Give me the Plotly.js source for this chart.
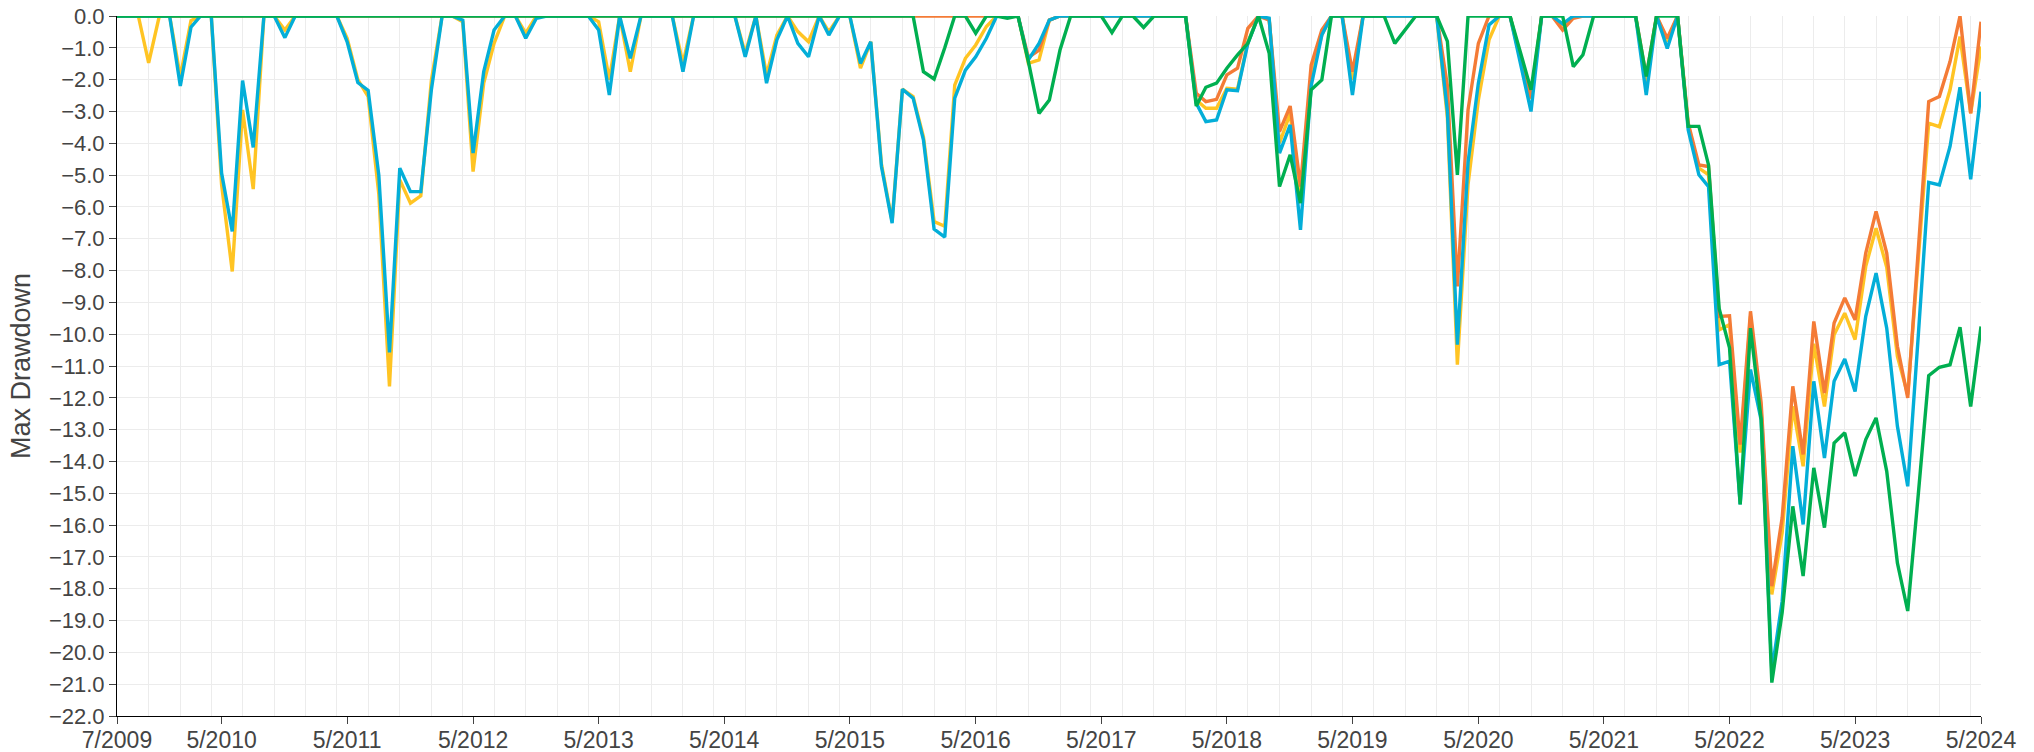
<!DOCTYPE html>
<html>
<head>
<meta charset="utf-8">
<script src="https://cdn.plot.ly/plotly-3.0.1.min.js"></script>
<style>
  html, body { margin: 0; padding: 0; background: #fff; }
  #chart { width: 2034px; height: 752px; }
</style>
</head>
<body>
<div id="chart"></div>
<script>
// Monthly series, 7/2009 .. 5/2024 (179 months)
const startYear = 2009, startMonth = 7, monthCount = 179;

const yellowSeries = [
  /*2009*/ 0, 0, 0, -1.47, 0, 0,
  /*2010*/ -1.9, -0.15, 0, 0, -5.3, -8.03, -2.95, -5.44, 0, 0, -0.44, 0,
  /*2011*/ 0, 0, 0, 0, -0.7, -2.0, -2.53, -5.6, -11.64, -5.15, -5.88, -5.65,
  /*2012*/ -2.0, 0, 0, -0.18, -4.89, -2.11, -0.86, 0, 0, -0.54, 0, 0,
  /*2013*/ 0, 0, 0, 0, -0.18, -2.0, 0, -1.75, 0, 0, 0, 0,
  /*2014*/ -1.49, 0, 0, 0, 0, 0, -1.17, 0, -1.85, -0.6, 0, -0.49,
  /*2015*/ -0.81, 0, -0.49, 0, 0, -1.64, -0.81, -4.65, -6.45, -2.3, -2.53, -3.8,
  /*2016*/ -6.46, -6.61, -2.17, -1.33, -0.91, -0.33, 0, 0, 0, -1.49, -1.38, -0.13,
  /*2017*/ 0, 0, 0, 0, 0, 0, 0, 0, 0, 0, 0, 0,
  /*2018*/ 0, -2.64, -2.9, -2.9, -2.27, -2.3, -0.81, 0, -0.1, -4.0, -3.06, -5.78,
  /*2019*/ -1.9, -0.6, 0, 0, -2.0, 0, 0, 0, 0, 0, 0, 0,
  /*2020*/ 0, -3.2, -10.96, -5.3, -2.64, -0.75, 0, 0, -1.4, -2.6, 0, 0,
  /*2021*/ -0.3, 0, 0, 0, 0, 0, 0, 0, -2.1, 0, -0.8, 0,
  /*2022*/ -3.45, -4.78, -4.99, -9.86, -9.7, -13.72, -9.44, -12.42, -18.18, -16.24, -12.27, -14.15,
  /*2023*/ -10.3, -12.27, -10.02, -9.34, -10.17, -7.87, -6.67, -7.9, -10.7, -11.9, -7.6, -3.37,
  /*2024*/ -3.48, -2.32, -0.65, -3.06, -0.96
];

const orangeSeries = [
  /*2009*/ 0, 0, 0, 0, 0, 0,
  /*2010*/ 0, 0, 0, 0, 0, 0, 0, 0, 0, 0, 0, 0,
  /*2011*/ 0, 0, 0, 0, 0, 0, 0, 0, 0, 0, 0, 0,
  /*2012*/ 0, 0, 0, 0, 0, 0, 0, 0, 0, 0, 0, 0,
  /*2013*/ 0, 0, 0, 0, 0, 0, 0, 0, 0, 0, 0, 0,
  /*2014*/ 0, 0, 0, 0, 0, 0, 0, 0, 0, 0, 0, 0,
  /*2015*/ 0, 0, 0, 0, 0, 0, 0, 0, 0, 0, 0, 0,
  /*2016*/ 0, 0, 0, 0, 0, 0, 0, 0, 0, -1.3, -1.07, -0.13,
  /*2017*/ 0, 0, 0, 0, 0, 0, 0, 0, 0, 0, 0, 0,
  /*2018*/ 0, -2.43, -2.69, -2.62, -1.85, -1.64, -0.39, 0, -0.13, -3.63, -2.83, -5.36,
  /*2019*/ -1.54, -0.44, 0, 0, -1.75, 0, 0, 0, 0, 0, 0, 0,
  /*2020*/ 0, -2.2, -8.5, -2.95, -0.86, 0, 0, 0, -1.3, -2.58, 0, 0,
  /*2021*/ -0.44, -0.07, 0, 0, 0, 0, 0, 0, -1.9, 0, -0.7, 0,
  /*2022*/ -3.37, -4.68, -4.73, -9.44, -9.42, -13.47, -9.28, -12.16, -17.92, -15.77, -11.64, -13.78,
  /*2023*/ -9.6, -11.85, -9.65, -8.86, -9.55, -7.45, -6.14, -7.45, -10.38, -12.0, -7.3, -2.69,
  /*2024*/ -2.53, -1.43, 0, -3.06, -0.18
];

const blueSeries = [
  /*2009*/ 0, 0, 0, 0, 0, 0,
  /*2010*/ -2.2, -0.35, 0, 0, -4.94, -6.77, -2.03, -4.13, 0, 0, -0.68, 0,
  /*2011*/ 0, 0, 0, 0, -0.81, -2.09, -2.34, -5.0, -10.57, -4.78, -5.52, -5.52,
  /*2012*/ -2.3, 0, 0, -0.13, -4.31, -1.75, -0.44, 0, 0, -0.7, -0.07, 0,
  /*2013*/ 0, 0, 0, 0, -0.44, -2.48, 0, -1.33, 0, 0, 0, 0,
  /*2014*/ -1.75, 0, 0, 0, 0, 0, -1.28, 0, -2.11, -0.75, 0, -0.86,
  /*2015*/ -1.28, 0, -0.6, 0, 0, -1.49, -0.81, -4.73, -6.51, -2.3, -2.58, -3.89,
  /*2016*/ -6.7, -6.95, -2.58, -1.7, -1.28, -0.7, 0, 0, 0, -1.38, -0.86, -0.13,
  /*2017*/ 0, 0, 0, 0, 0, 0, 0, 0, 0, 0, 0, 0,
  /*2018*/ 0, -2.74, -3.32, -3.27, -2.32, -2.35, -0.86, 0, -0.07, -4.31, -3.42, -6.72,
  /*2019*/ -2.2, -0.6, 0, 0, -2.48, 0, 0, 0, 0, 0, 0, 0,
  /*2020*/ 0, -3.0, -10.33, -4.6, -2.11, -0.28, 0, 0, -1.49, -3.0, 0, 0,
  /*2021*/ -0.25, 0, 0, 0, 0, 0, 0, 0, -2.48, 0, -1.02, 0,
  /*2022*/ -3.58, -4.99, -5.36, -10.96, -10.85, -15.35, -11.11, -12.7, -20.6, -18.39, -13.52, -15.98,
  /*2023*/ -11.48, -13.89, -11.48, -10.78, -11.8, -9.44, -8.08, -9.81, -12.89, -14.78, -10.0, -5.23,
  /*2024*/ -5.31, -4.1, -2.24, -5.13, -2.38
];

const greenSeries = [
  /*2009*/ 0, 0, 0, 0, 0, 0,
  /*2010*/ 0, 0, 0, 0, 0, 0, 0, 0, 0, 0, 0, 0,
  /*2011*/ 0, 0, 0, 0, 0, 0, 0, 0, 0, 0, 0, 0,
  /*2012*/ 0, 0, 0, 0, 0, 0, 0, 0, 0, 0, 0, 0,
  /*2013*/ 0, 0, 0, 0, 0, 0, 0, 0, 0, 0, 0, 0,
  /*2014*/ 0, 0, 0, 0, 0, 0, 0, 0, 0, 0, 0, 0,
  /*2015*/ 0, 0, 0, 0, 0, 0, 0, 0, 0, 0, 0, -1.75,
  /*2016*/ -1.98, -1.0, 0, 0, -0.54, 0, 0, -0.07, 0, -1.43, -3.06, -2.64,
  /*2017*/ -1.07, 0, 0, 0, 0, -0.52, 0, 0, -0.36, 0, 0, 0,
  /*2018*/ 0, -2.83, -2.24, -2.11, -1.64, -1.22, -0.86, 0, -1.17, -5.36, -4.36, -5.88,
  /*2019*/ -2.32, -2.01, 0, 0, 0, 0, 0, 0, -0.86, -0.44, 0, 0,
  /*2020*/ 0, -0.8, -4.99, 0, 0, 0, 0, 0, -1.17, -2.32, 0, 0,
  /*2021*/ 0, -1.59, -1.22, 0, 0, 0, 0, 0, -1.9, 0, 0, 0,
  /*2022*/ -3.47, -3.47, -4.68, -9.2, -10.43, -15.35, -9.81, -12.68, -20.95, -18.75, -15.41, -17.6,
  /*2023*/ -14.2, -16.08, -13.42, -13.1, -14.46, -13.31, -12.63, -14.31, -17.19, -18.7, -15.0, -11.3,
  /*2024*/ -11.04, -10.96, -9.78, -12.27, -9.76
];

const tickDates = ['2009-07-01','2010-05-01','2011-05-01','2012-05-01','2013-05-01','2014-05-01',
  '2015-05-01','2016-05-01','2017-05-01','2018-05-01','2019-05-01','2020-05-01','2021-05-01',
  '2022-05-01','2023-05-01','2024-05-01'];
const tickLabels = ['7/2009','5/2010','5/2011','5/2012','5/2013','5/2014','5/2015','5/2016',
  '5/2017','5/2018','5/2019','5/2020','5/2021','5/2022','5/2023','5/2024'];

const seriesColors = { yellow: '#FFC423', orange: '#F47B36', blue: '#03AED8', green: '#00AF50' };

// month dates for the x axis
const months = [];
for (let k = 0; k < monthCount; k++) {
  const m0 = startMonth - 1 + k;
  const y = startYear + Math.floor(m0 / 12);
  const m = (m0 % 12) + 1;
  months.push(y + '-' + String(m).padStart(2, '0') + '-01');
}

function line(values, color) {
  return {
    type: 'scatter', mode: 'lines', x: months, y: values,
    line: { color: color, width: 3.4 }, cliponaxis: false, hoverinfo: 'x+y', showlegend: false
  };
}

const data = [
  line(yellowSeries, seriesColors.yellow),
  line(orangeSeries, seriesColors.orange),
  line(blueSeries, seriesColors.blue),
  line(greenSeries, seriesColors.green)
];

const layout = {
  width: 2034, height: 752,
  margin: { l: 117, r: 53, t: 16, b: 36 },
  paper_bgcolor: '#ffffff', plot_bgcolor: '#ffffff',
  font: { family: 'Arial, "Liberation Sans", sans-serif', color: '#444' },
  showlegend: false,
  xaxis: {
    type: 'date',
    range: ['2009-07-01', '2024-05-01'],
    tickmode: 'array', tickvals: tickDates, ticktext: tickLabels,
    showgrid: false, zeroline: false,
    showline: true, linecolor: '#000', linewidth: 1,
    ticks: 'outside', ticklen: 7, tickcolor: '#444', tickwidth: 1,
    ticklabelstandoff: -4,
    tickfont: { size: 23, color: '#444' },
    minor: { dtick: 'M3', tick0: '2009-07-01', showgrid: true, gridcolor: '#ececec', gridwidth: 1, ticks: '' }
  },
  yaxis: {
    range: [-22, 0], dtick: 1, tick0: 0, tickformat: '.1f',
    showgrid: true, gridcolor: '#ececec', gridwidth: 1, zeroline: false,
    showline: true, linecolor: '#000', linewidth: 1,
    ticks: 'outside', ticklen: 7, tickcolor: '#444', tickwidth: 1,
    tickfont: { size: 22, color: '#444' },
    title: { text: 'Max Drawdown', font: { size: 27, color: '#444' }, standoff: 10 }
  }
};

Plotly.newPlot('chart', data, layout, { displayModeBar: false, staticPlot: true });
</script>
</body>
</html>
